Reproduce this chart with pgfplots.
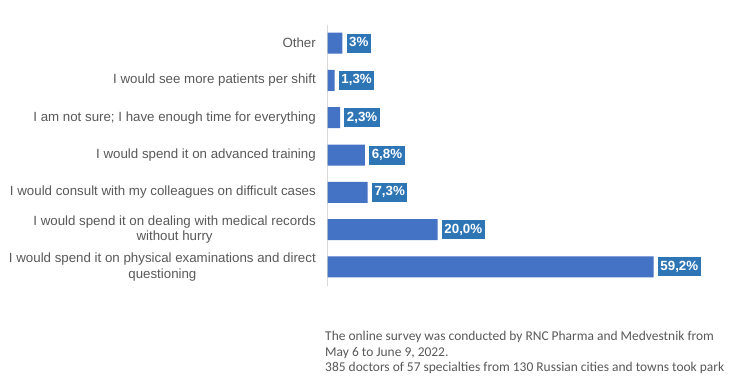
\documentclass[border=0pt]{standalone}
\usepackage{fontspec}
\setmainfont{Liberation Sans}
\newfontfamily\calibri{Carlito}
\usepackage{pgfplots}
\pgfplotsset{compat=1.18}
\definecolor{barblue}{HTML}{4472C4}
\definecolor{lblue}{HTML}{2E75B6}
\definecolor{txtgray}{HTML}{595959}
\definecolor{axgray}{HTML}{D9D9D9}
\begin{document}
\begin{tikzpicture}
\path[use as bounding box, fill=white] (0,0) rectangle (731bp,-386bp);
\begin{axis}[
  at={(327.5bp,-24.5bp)}, anchor=north west,
  scale only axis, width=385.7bp, height=261bp,
  xmin=0, xmax=70, ymin=-0.5, ymax=6.5, y dir=reverse,
  hide x axis,
  axis y line*=left,
  y axis line style={draw=axgray, line width=0.8bp},
  ytick={0,...,6},
  major tick length=0pt,
  yticklabels={Other, I would see more patients per shift, I am not sure; I have enough time for everything, I would spend it on advanced training, I would consult with my colleagues on difficult cases, {I would spend it on dealing with medical records\\without hurry}, {I would spend it on physical examinations and direct\\questioning}},
  yticklabel style={anchor=east, inner sep=0pt, xshift=-11.5bp, align=center, text=txtgray, font=\fontsize{13.3bp}{15.5bp}\selectfont},
  xbar, bar width=21bp,
  point meta=explicit symbolic,
  nodes near coords,
  nodes near coords style={anchor=west, xshift=4bp, fill=lblue, text=white, font=\bfseries\fontsize{13.3bp}{15bp}\selectfont, inner xsep=2.6bp, inner ysep=3bp, text height=10bp, text depth=3bp},
  clip=false,
]
\addplot[fill=barblue, draw=none] coordinates {
  (2.7,0) [3\%]
  (1.3,1) [1,3\%]
  (2.3,2) [2,3\%]
  (6.8,3) [6,8\%]
  (7.3,4) [7,3\%]
  (20.0,5) [20,0\%]
  (59.2,6) [59,2\%]
};
\end{axis}
\node[anchor=north west, inner sep=0pt, align=left, text=txtgray, font=\calibri\fontsize{13.45bp}{15.6bp}\selectfont] at (325bp,-331bp) {The online survey was conducted by RNC Pharma and Medvestnik from\\May 6 to June 9, 2022.\\385 doctors of 57 specialties from 130 Russian cities and towns took park};
\end{tikzpicture}
\end{document}
